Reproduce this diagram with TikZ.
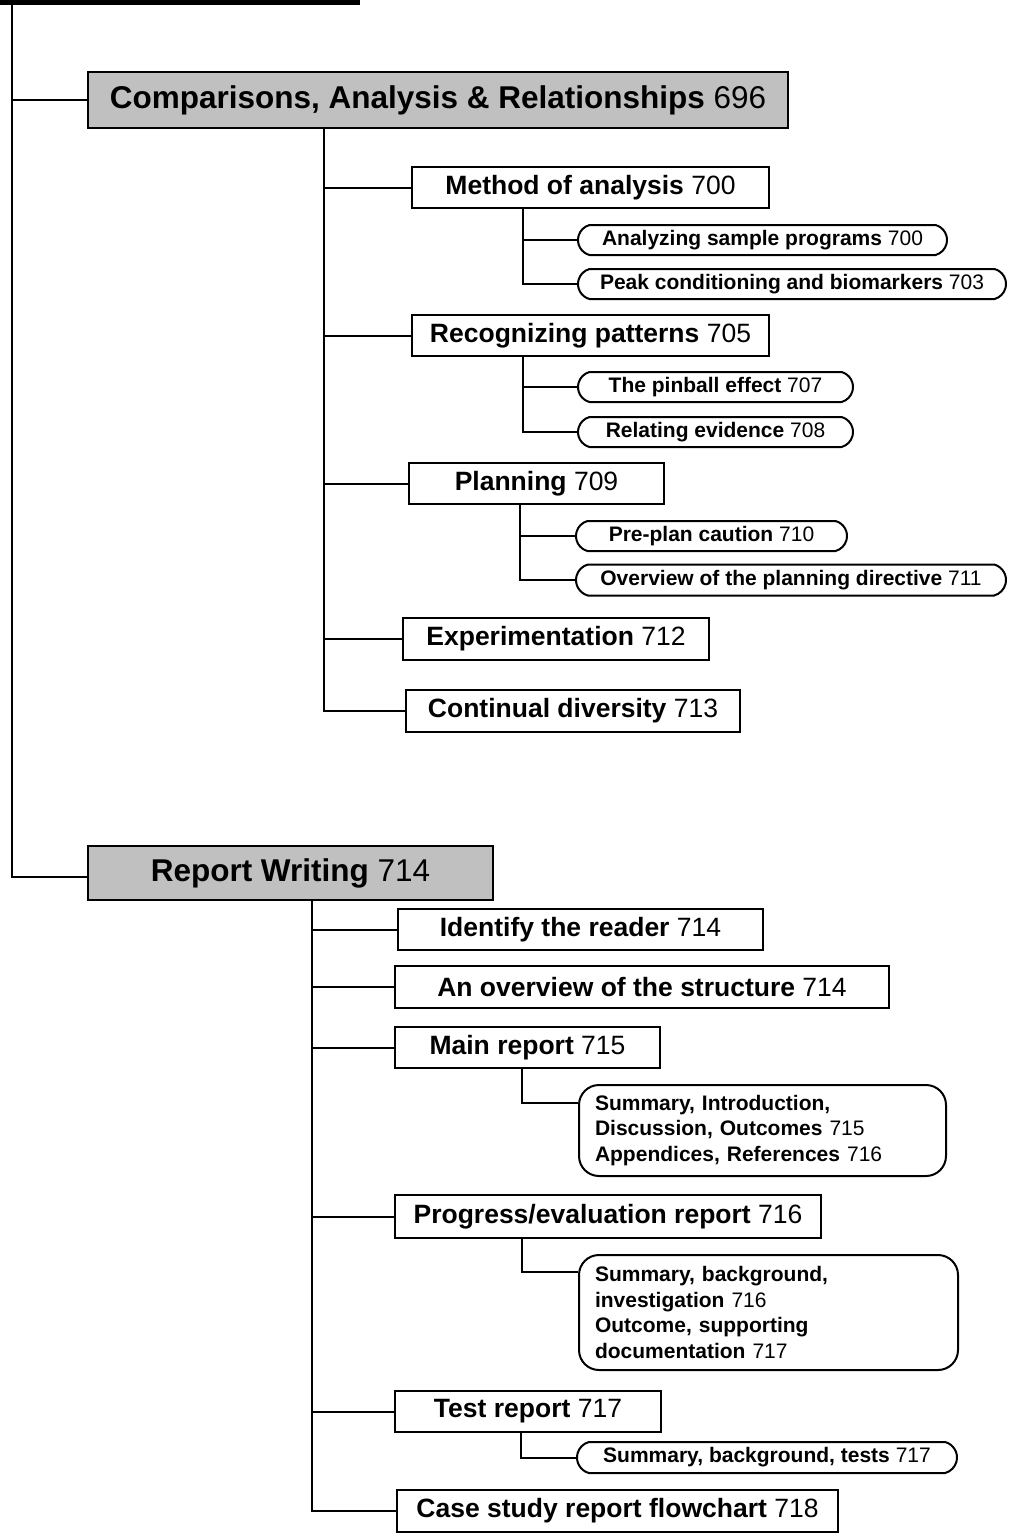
\documentclass[tikz,border=0pt]{standalone}
\usepackage{fontspec}
\setmainfont{Liberation Sans}
\usetikzlibrary{shapes.misc}
\definecolor{boxgray}{RGB}{192,192,192}
\begin{document}
\begin{tikzpicture}[x=1pt,y=-1pt,
 lone/.style={draw, line width=2.5pt, fill=boxgray, inner sep=0pt, font=\fontsize{31.5}{36}\selectfont},
 ltwo/.style={draw, line width=2pt, fill=white, inner sep=0pt, font=\fontsize{26.5}{30}\selectfont},
 pill/.style={draw, line width=2pt, rounded rectangle, rounded rectangle arc length=150, inner sep=0pt, fill=white, font=\fontsize{21}{25.5}\selectfont},
 rbox/.style={draw, line width=2pt, rounded corners=20pt, inner xsep=16pt, inner ysep=0pt, align=left, fill=white, font=\fontsize{21}{25.5}\selectfont},
 conn/.style={line width=2pt}]
\useasboundingbox (0,0) rectangle (1013,1537);
% top bar fragment
\fill (0,0) rectangle (360,4.5);
\coordinate (top) at (12,0);

% level 1
\node[lone, minimum width=700pt, minimum height=56pt] (L1a) at (438,100) {\textbf{Comparisons, Analysis \& Relationships} 696};
\node[lone, minimum width=405pt, minimum height=54pt] (L1b) at (290.5,873) {\textbf{Report Writing} 714};

% level 2 (comparisons)
\node[ltwo, minimum width=357pt, minimum height=41pt] (m1) at (590.5,187.5) {\textbf{Method of analysis} 700};
\node[ltwo, minimum width=357pt, minimum height=41pt] (m2) at (590.5,335.5) {\textbf{Recognizing patterns} 705};
\node[ltwo, minimum width=255pt, minimum height=41pt] (m3) at (536.5,483.5) {\textbf{Planning} 709};
\node[ltwo, minimum width=306pt, minimum height=42pt] (m4) at (556,639) {\textbf{Experimentation} 712};
\node[ltwo, minimum width=334pt, minimum height=42pt] (m5) at (573,711) {\textbf{Continual diversity} 713};

% level 3 pills
\node[pill, minimum width=369pt, minimum height=30pt] (p1) at (762.5,240) {\textbf{Analyzing sample programs} 700};
\node[pill, minimum width=428pt, minimum height=30pt] (p2) at (792,284) {\textbf{Peak conditioning and biomarkers} 703};
\node[pill, minimum width=275pt, minimum height=30pt] (p3) at (715.5,387) {\textbf{The pinball effect} 707};
\node[pill, minimum width=275pt, minimum height=30pt] (p4) at (715.5,432) {\textbf{Relating evidence} 708};
\node[pill, minimum width=271pt, minimum height=30pt] (p5) at (711.5,536) {\textbf{Pre-plan caution} 710};
\node[pill, minimum width=430pt, minimum height=31pt] (p6) at (791,580) {\textbf{Overview of the planning directive} 711};

% level 2 (report writing)
\node[ltwo, minimum width=365pt, minimum height=41pt] (r1) at (580.5,929.5) {\textbf{Identify the reader} 714};
\node[ltwo, minimum width=494pt, minimum height=42pt] (r2) at (642,987) {\textbf{An overview of the structure} 714};
\node[ltwo, minimum width=265pt, minimum height=41pt] (r3) at (527.5,1047.5) {\textbf{Main report} 715};
\node[ltwo, minimum width=426pt, minimum height=43pt] (r4) at (608,1216.5) {\textbf{Progress/evaluation report} 716};
\node[ltwo, minimum width=266pt, minimum height=41pt] (r5) at (528,1411.5) {\textbf{Test report} 717};
\node[ltwo, minimum width=441pt, minimum height=42pt] (r6) at (617.5,1511) {\textbf{Case study report flowchart} 718};

% level 3 (report writing)
\node[rbox, text width=335pt, minimum height=91pt] (q1) at (762.5,1130.5) {\textbf{Summary, Introduction,}\\\textbf{Discussion, Outcomes} 715\\\textbf{Appendices, References} 716};
\node[rbox, text width=347pt, minimum height=115pt] (q2) at (768.5,1312.5) {\textbf{Summary, background,}\\\textbf{investigation} 716\\\textbf{Outcome, supporting}\\\textbf{documentation} 717};
\node[pill, minimum width=380pt, minimum height=31pt] (q3) at (767,1457.5) {\textbf{Summary, background, tests} 717};

% connectors level 1
\draw[conn] (top) |- ([yshift=-4pt]L1b.west);
\draw[conn] (top |- L1a.west) -- (L1a.west);

% connectors comparisons
\coordinate (ca) at (324,128);
\draw[conn] (ca) |- (m5.west);
\draw[conn] (ca |- m1.west) -- (m1.west);
\draw[conn] (ca |- m2.west) -- (m2.west);
\draw[conn] (ca |- m3.west) -- (m3.west);
\draw[conn] (ca |- m4.west) -- (m4.west);

\coordinate (cm1) at (523,208);
\draw[conn] (cm1) |- (p2.west);
\draw[conn] (cm1 |- p1.west) -- (p1.west);
\coordinate (cm2) at (523,356);
\draw[conn] (cm2) |- (p4.west);
\draw[conn] (cm2 |- p3.west) -- (p3.west);
\coordinate (cm3) at (520,504);
\draw[conn] (cm3) |- (p6.west);
\draw[conn] (cm3 |- p5.west) -- (p5.west);

% connectors report writing
\coordinate (cr) at (312,900);
\draw[conn] (cr) |- (r6.west);
\draw[conn] (cr |- r1.west) -- (r1.west);
\draw[conn] (cr |- r2.west) -- (r2.west);
\draw[conn] (cr |- r3.west) -- (r3.west);
\draw[conn] (cr |- r4.west) -- (r4.west);
\draw[conn] (cr |- r5.west) -- (r5.west);

\coordinate (cr3) at (522,1068);
\draw[conn] (cr3) |- ([yshift=-19pt]q1.north west);
\coordinate (cr4) at (522,1238);
\draw[conn] (cr4) |- ([yshift=-18pt]q2.north west);
\coordinate (cr5) at (521,1432);
\draw[conn] (cr5) |- (q3.west);
\end{tikzpicture}
\end{document}
